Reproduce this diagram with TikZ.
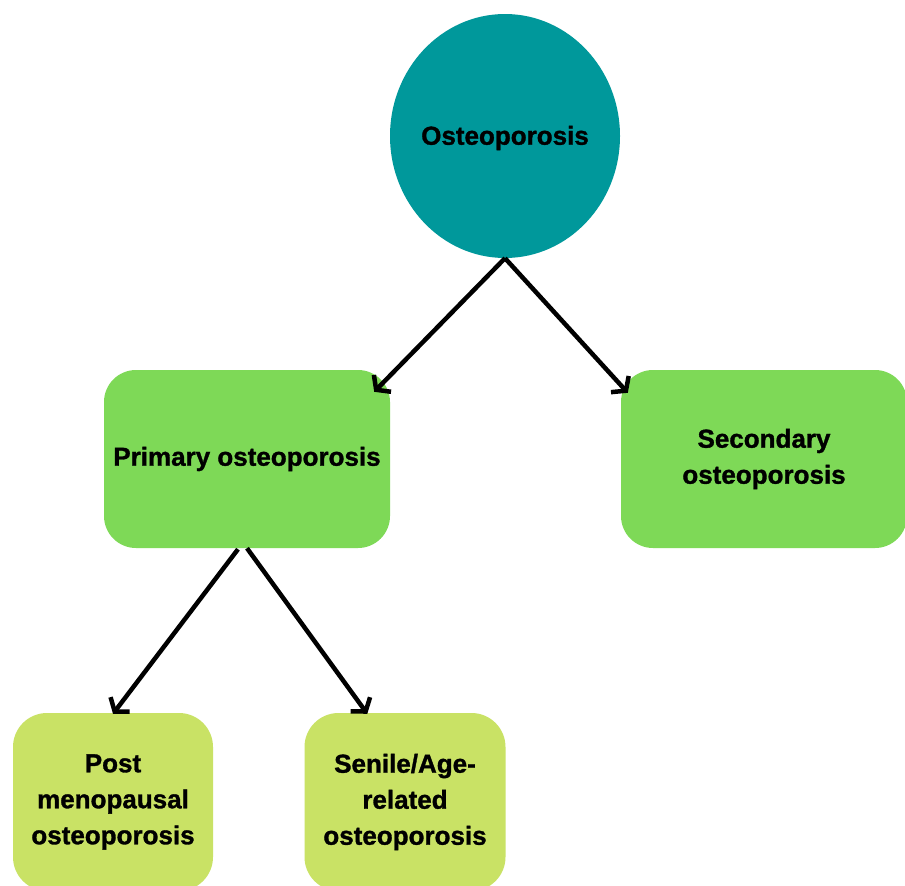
\documentclass[tikz,border=0pt]{standalone}
\usepackage{fontspec}
\setmainfont{Liberation Sans}
\newfontfamily\heavyfont[FakeBold=1.2]{Liberation Sans Bold}
\usetikzlibrary{shapes.geometric,arrows.meta,calc}
\definecolor{teal1}{HTML}{00989B}
\definecolor{green1}{HTML}{7ED957}
\definecolor{lime1}{HTML}{C9E265}
\tikzset{
  lbl/.style={font=\heavyfont\fontsize{26}{36}\selectfont, align=center, text=black, inner sep=0pt},
  rootnode/.style={ellipse, fill=teal1, minimum width=230pt, minimum height=244pt, inner sep=0pt},
  midbox/.style={rectangle, rounded corners=32pt, fill=green1, minimum height=178pt, lbl},
  leafbox/.style={rectangle, rounded corners=34pt, fill=lime1, minimum height=178pt, lbl},
  arr/.style={line width=4.5pt, black, -{Straight Barb[length=9pt,width=24pt,line width=4.5pt]}}
}
\begin{document}
\begin{tikzpicture}[x=1pt,y=-1pt]
\clip (0,0) rectangle (905,886);
\useasboundingbox (0,0) rectangle (905,886);
\fill[white] (0,0) rectangle (905,886);
\node[rootnode] (root) at (505,136) {};
\node[lbl] (roottext) at ($(root.center)+(0,2)$) {Osteoporosis};
\node[midbox, minimum width=286pt] (prim) at (247,459) {Primary osteoporosis};
\node[midbox, minimum width=286pt] (sec) at (764,459) {Secondary\\osteoporosis};
\node[leafbox, minimum width=200pt] (post) at (113,802) {Post\\menopausal\\osteoporosis};
\node[leafbox, minimum width=201pt] (sen) at (405,802) {Senile/Age-\\related\\osteoporosis};
\draw[arr] (root.south) -- ($(prim.north east)+(-16,22)$);
\draw[arr] (root.south) -- ($(sec.north west)+(7,23)$);
\draw[arr] ($(prim.south)+(-9,1)$) -- ($(post.north)+(0,1)$);
\draw[arr] (prim.south) -- ($(sen.north west)+(63,1)$);
\end{tikzpicture}
\end{document}
